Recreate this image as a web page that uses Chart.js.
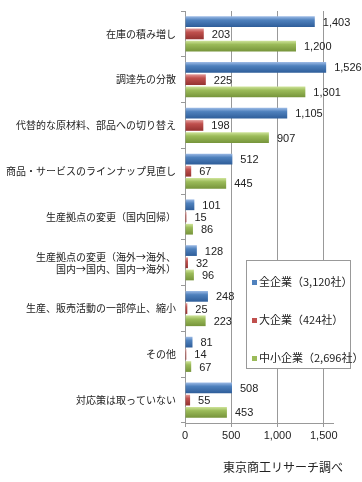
<!DOCTYPE html>
<html>
<head>
<meta charset="utf-8">
<script src="https://cdn.jsdelivr.net/npm/chart.js@4"></script>
<style>
html,body{margin:0;padding:0;background:#fff;}
#wrap{position:relative;width:362px;height:482px;}
#legend{position:absolute;left:246px;top:260px;width:105px;height:109px;background:#fff;border:1px solid #999;box-sizing:border-box;font-family:"Noto Sans CJK JP",sans-serif;font-size:11px;color:#222;}
#legend div{position:absolute;left:5px;white-space:nowrap;line-height:14px;}
#legend span.m{display:inline-block;width:5px;height:5px;margin-right:2px;vertical-align:middle;position:relative;top:-1px;}
</style>
</head>
<body>
<div id="wrap">
<canvas id="c" width="362" height="482"></canvas>
<div id="legend"></div>
</div>
<script>
const categories = [
  "在庫の積み増し",
  "調達先の分散",
  "代替的な原材料、部品への切り替え",
  "商品・サービスのラインナップ見直し",
  "生産拠点の変更（国内回帰）",
  ["生産拠点の変更（海外→海外、", "国内→国内、国内→海外）"],
  "生産、販売活動の一部停止、縮小",
  "その他",
  "対応策は取っていない"
];
const seriesNames = ["全企業（3,120社）", "大企業（424社）", "中小企業（2,696社）"];
const allCompanies = [1403, 1526, 1105, 512, 101, 128, 248, 81, 508];
const largeCompanies = [203, 225, 198, 67, 15, 32, 25, 14, 55];
const smeCompanies = [1200, 1301, 907, 445, 86, 96, 223, 67, 453];
const xTicks = [0, 500, 1000, 1500];
const sourceText = "東京商工リサーチ調べ";

const colors = [
  {base:"#4f81bd", top:"#9dbbe6", bot:"#2e5d99"},
  {base:"#c0504d", top:"#e39a98", bot:"#943230"},
  {base:"#9bbb59", top:"#cfe49a", bot:"#76943a"}
];

const gradientPlugin = {
  id: "grad",
  beforeDatasetsDraw(chart) {
    const ctx = chart.ctx;
    chart.data.datasets.forEach((ds, di) => {
      const meta = chart.getDatasetMeta(di);
      const c = colors[di];
      meta.data.forEach(el => {
        const h = el.height;
        const top = el.y - h / 2;
        const g = ctx.createLinearGradient(0, top, 0, top + h);
        g.addColorStop(0, c.top);
        g.addColorStop(0.35, c.base);
        g.addColorStop(1, c.bot);
        el.options.backgroundColor = g;
      });
    });
  }
};

const labelPlugin = {
  id: "vals",
  afterDatasetsDraw(chart) {
    const ctx = chart.ctx;
    ctx.save();
    ctx.font = "11px 'Liberation Sans', Arial, sans-serif";
    ctx.fillStyle = "#222";
    ctx.textAlign = "left";
    ctx.textBaseline = "middle";
    chart.data.datasets.forEach((ds, di) => {
      const meta = chart.getDatasetMeta(di);
      meta.data.forEach((el, i) => {
        ctx.fillText(ds.data[i].toLocaleString("en-US"), el.x + 8, el.y + 1);
      });
    });
    ctx.font = "12px 'Noto Sans CJK JP', sans-serif";
    ctx.textAlign = "right";
    ctx.fillText(sourceText, 343, 467);
    ctx.restore();
  }
};

const ds = [allCompanies, largeCompanies, smeCompanies].map((d, i) => ({
  label: seriesNames[i],
  data: d,
  backgroundColor: () => colors[i].base,
  borderWidth: 0,
  categoryPercentage: 0.8,
  barPercentage: 0.88
}));

new Chart(document.getElementById("c"), {
  type: "bar",
  data: { labels: categories, datasets: ds },
  options: {
    indexAxis: "y",
    responsive: false,
    animation: false,
    events: [],
    layout: { padding: { top: 8, right: 29, bottom: 34, left: 0 } },
    plugins: { legend: { display: false }, tooltip: { enabled: false } },
    scales: {
      x: {
        min: 0, max: 1600,
        afterBuildTicks(scale) { scale.ticks = xTicks.map(v => ({ value: v })); },
        afterFit(scale) { scale.height = 25; },
        grid: { color: "#999", lineWidth: 1, tickLength: 4, drawTicks: true },
        border: { color: "#999" },
        ticks: {
          color: "#222",
          padding: 2,
          font: { family: "'Liberation Sans', Arial, sans-serif", size: 11 },
          callback: v => v.toLocaleString("en-US"),
          maxRotation: 0
        }
      },
      y: {
        afterFit(scale) { scale.width = 185; },
        grid: { drawOnChartArea: false, offset: true, color: "#999", tickLength: 4 },
        border: { color: "#999" },
        ticks: {
          color: "#222",
          padding: 5,
          font: { family: "'Noto Sans CJK JP', sans-serif", size: 10 }
        }
      }
    }
  },
  plugins: [gradientPlugin, labelPlugin]
});

const lg = document.getElementById("legend");
seriesNames.forEach((n, i) => {
  const d = document.createElement("div");
  d.style.top = (13 + i * 38) + "px";
  d.innerHTML = '<span class="m" style="background:' + colors[i].base + '"></span>' + n;
  lg.appendChild(d);
});
</script>
</body>
</html>
